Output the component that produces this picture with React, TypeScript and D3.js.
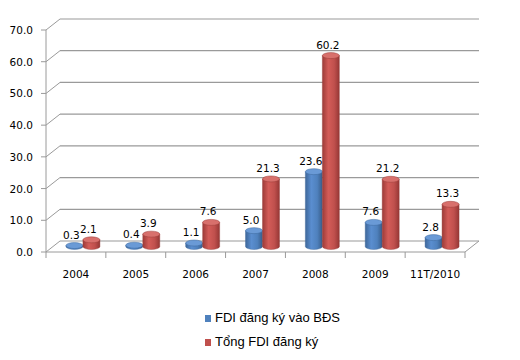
import React from "react";
import * as d3 from "d3";

const categories = ["2004", "2005", "2006", "2007", "2008", "2009", "11T/2010"];
const fdiBDS = [0.3, 0.4, 1.1, 5.0, 23.6, 7.6, 2.8];
const fdiTotal = [2.1, 3.9, 7.6, 21.3, 60.2, 21.2, 13.3];
const seriesNames = ["FDI đăng ký vào BĐS", "Tổng FDI đăng ký"];
const yTicks = [0, 10, 20, 30, 40, 50, 60, 70];

const W = 520;
const H = 360;
const left = 46;
const right = 465;
const floorY = 252;
const dx = 14;
const dy = 11;
const barW = 17;
const ry = 3;

export default function App() {
  const x = d3.scaleBand<string>().domain(categories).range([left, right]).paddingInner(0).paddingOuter(0);
  const h = d3.scaleLinear().domain([0, 70]).range([0, 222]);
  const yFront = (v: number) => floorY - h(v);
  const yMid = (v: number) => yFront(v) - dy / 2;
  const grid = "#9a9a9a";
  const fontTick = "'DejaVu Sans', Verdana, sans-serif";

  const series = [
    { values: fdiBDS, name: "blue", top: "#6A9AD6", stroke: "#3A669C" },
    { values: fdiTotal, name: "red", top: "#D8706C", stroke: "#983A37" },
  ];

  const cyl = (cx: number, v: number, s: typeof series[0], key: string) => {
    const base = yMid(0);
    const top = yMid(v);
    const x0 = cx - barW / 2;
    const x1 = cx + barW / 2;
    const rx = barW / 2;
    const body = `M${x0},${top} L${x0},${base} A${rx},${ry} 0 0 0 ${x1},${base} L${x1},${top} Z`;
    return (
      <g key={key}>
        <path d={body} fill={`url(#grad-${s.name})`} stroke={s.stroke} strokeWidth={0.4} />
        <ellipse cx={cx} cy={top} rx={rx} ry={ry} fill={s.top} stroke={s.stroke} strokeWidth={0.5} />
      </g>
    );
  };

  return (
    <svg width={W} height={H} style={{ display: "block", position: "absolute", left: 0, top: 0 }}>
      <defs>
        <linearGradient id="grad-blue" x1="0" x2="1" y1="0" y2="0">
          <stop offset="0" stopColor="#3E6799" />
          <stop offset="0.35" stopColor="#5A8ED0" />
          <stop offset="0.7" stopColor="#4F81BD" />
          <stop offset="1" stopColor="#385D8A" />
        </linearGradient>
        <linearGradient id="grad-red" x1="0" x2="1" y1="0" y2="0">
          <stop offset="0" stopColor="#9C3B38" />
          <stop offset="0.35" stopColor="#D35C58" />
          <stop offset="0.7" stopColor="#C0504D" />
          <stop offset="1" stopColor="#953735" />
        </linearGradient>
      </defs>
      <rect width={W} height={H} fill="#fff" />
      {/* back gridlines */}
      {yTicks.map((t) => (
        <g key={"g" + t}>
          <line x1={left + dx} x2={right + dx} y1={yFront(t) - dy} y2={yFront(t) - dy} stroke={grid} strokeWidth={1.2} />
          <line x1={left} x2={left + dx} y1={yFront(t)} y2={yFront(t) - dy} stroke={grid} strokeWidth={1} />
          <line x1={left - 5} x2={left} y1={yFront(t)} y2={yFront(t)} stroke={grid} strokeWidth={1} />
          <text x={33} y={yFront(t) + 4} textAnchor="end" fontFamily={fontTick} fontSize={10.5} fill="#000">
            {t.toFixed(1)}
          </text>
        </g>
      ))}
      {/* floor */}
      <line x1={left} x2={right} y1={floorY} y2={floorY} stroke={grid} strokeWidth={1} />
      <line x1={right} x2={right + dx} y1={floorY} y2={floorY - dy} stroke={grid} strokeWidth={1} />
      <line x1={left} x2={left} y1={yFront(70)} y2={floorY} stroke={grid} strokeWidth={1} />
      {/* category ticks */}
      {categories.map((c) => (
        <line key={"t" + c} x1={x(c)!} x2={x(c)!} y1={floorY} y2={floorY + 6} stroke={grid} strokeWidth={1} />
      ))}
      <line x1={right} x2={right} y1={floorY} y2={floorY + 6} stroke={grid} strokeWidth={1} />
      {categories.map((c) => (
        <text key={"l" + c} x={x(c)! + x.bandwidth() / 2} y={278} textAnchor="middle" fontFamily={fontTick} fontSize={10.5} fill="#000">
          {c}
        </text>
      ))}
      {/* bars */}
      {categories.map((c, i) => {
        const pc = x(c)! + x.bandwidth() / 2 + dx / 2;
        return (
          <g key={"b" + c}>
            {series.map((s, j) => {
              const cx = pc + (j === 0 ? -barW / 2 : barW / 2);
              return cyl(cx, s.values[i], s, c + j);
            })}
          </g>
        );
      })}
      {/* labels */}
      {categories.map((c, i) => {
        const pc = x(c)! + x.bandwidth() / 2 + dx / 2;
        return series.map((s, j) => {
          const cx = pc + (j === 0 ? -barW / 2 : barW / 2) - 3;
          return (
            <text key={"v" + c + j} x={cx} y={yMid(s.values[i]) - 7} textAnchor="middle" fontFamily={fontTick} fontSize={10.5} fill="#000">
              {s.values[i].toFixed(1)}
            </text>
          );
        });
      })}
      {/* legend */}
      {seriesNames.map((n, j) => (
        <g key={"lg" + j}>
          <rect x={205} y={315 + j * 24} width={6} height={7} fill={j === 0 ? "#4F81BD" : "#C0504D"} />
          <text x={215} y={322 + j * 24} fontFamily="'Liberation Sans', Arial, sans-serif" fontSize={13} fill="#000">
            {n}
          </text>
        </g>
      ))}
    </svg>
  );
}
